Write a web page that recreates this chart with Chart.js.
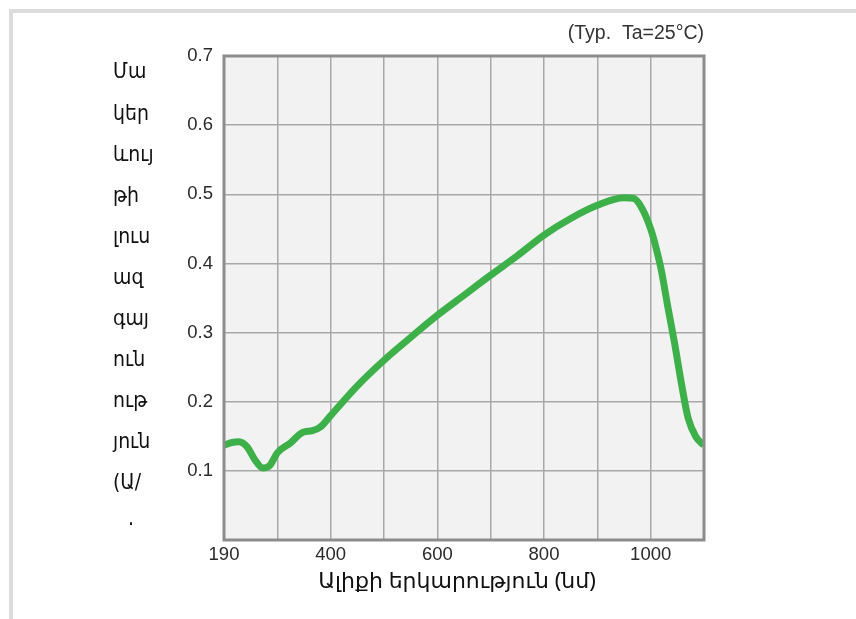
<!DOCTYPE html>
<html>
<head>
<meta charset="utf-8">
<script src="https://cdn.jsdelivr.net/npm/chart.js@4.4.1/dist/chart.umd.min.js"></script>
<style>
    html, body { margin: 0; padding: 0; background: #fff; }
    #wrap { position: relative; width: 856px; height: 619px; }
</style>
</head>
<body>
<div id="wrap"><canvas id="grafico"></canvas></div>
<script>
// Valores
const longitudOnda = [200, 215, 228, 243, 258, 273, 286, 300, 324, 348, 365, 380, 400, 450, 500, 550, 600, 650, 700, 750, 800, 850, 900, 950, 968, 982, 1000, 1010, 1020, 1032, 1045, 1058, 1070, 1085, 1100];
const sensibilidad = [0.137, 0.141, 0.142, 0.135, 0.116, 0.104, 0.108, 0.126, 0.140, 0.156, 0.158, 0.163, 0.180, 0.223, 0.260, 0.293, 0.325, 0.354, 0.383, 0.411, 0.441, 0.465, 0.484, 0.495, 0.494, 0.482, 0.450, 0.423, 0.390, 0.338, 0.284, 0.225, 0.177, 0.149, 0.137];
const etiquetasX = { 200: '190', 400: '400', 600: '600', 800: '800', 1000: '1000' };
const tituloX = 'Ալիքի երկարություն (նմ)';
const tituloY = ['Մա', 'կեր', 'ևույ', 'թի', 'լուս', 'ազ', 'գայ', 'ուն', 'ութ', 'յուն', '(Ա/', '·'];
const nota = '(Typ.  Ta=25°C)';

const fuente = '"Liberation Sans", Arial, sans-serif';
const fuenteArm = '"DejaVu Sans Condensed", "Noto Sans", "DejaVu Sans", sans-serif';

const puntos = longitudOnda.map((x, i) => ({ x: x, y: sensibilidad[i] }));

// Marco, fondo del área y textos
const decoracion = {
    id: 'decoracion',
    beforeDraw(chart) {
        const ctx = chart.ctx;
        const a = chart.chartArea;
        ctx.save();
        ctx.fillStyle = '#dcdcdc';
        ctx.fillRect(9, 9, 4, 610);
        ctx.fillRect(9, 9, 847, 4);
        ctx.fillStyle = '#f2f2f2';
        ctx.fillRect(a.left, a.top, a.right - a.left, a.bottom - a.top);
        ctx.restore();
    },
    afterDraw(chart) {
        const ctx = chart.ctx;
        const a = chart.chartArea;
        ctx.save();
        ctx.strokeStyle = '#8c8c8c';
        ctx.lineWidth = 3;
        ctx.strokeRect(a.left, a.top, a.right - a.left, a.bottom - a.top);

        ctx.fillStyle = '#333';
        ctx.font = '19.5px ' + fuente;
        ctx.textAlign = 'right';
        ctx.textBaseline = 'middle';
        ctx.fillText(nota, a.right, 34);

        ctx.fillStyle = '#111';
        ctx.font = '21px ' + fuenteArm;
        ctx.textAlign = 'left';
        tituloY.forEach((t, i) => {
            const x = i === tituloY.length - 1 ? 128 : 113;
            ctx.fillText(t, x, 73 + i * 41.1);
        });

        ctx.font = '22px "Noto Sans", "DejaVu Sans", sans-serif';
        ctx.textAlign = 'center';
        ctx.fillText(tituloX, 457, 582);
        ctx.restore();
    }
};

const ctx = document.getElementById('grafico').getContext('2d');
new Chart(ctx, {
    type: 'line',
    data: {
        datasets: [{
            data: puntos,
            borderColor: '#3db049',
            borderWidth: 7,
            pointRadius: 0,
            cubicInterpolationMode: 'monotone',
            fill: false
        }]
    },
    options: {
        responsive: true,
        maintainAspectRatio: false,
        animation: false,
        layout: { padding: { left: 0, right: 152, top: 56, bottom: 0 } },
        plugins: {
            legend: { display: false },
            tooltip: { enabled: false }
        },
        scales: {
            x: {
                type: 'linear',
                min: 200,
                max: 1100,
                afterFit: scale => { scale.height = 79; },
                ticks: {
                    stepSize: 100,
                    autoSkip: false,
                    maxRotation: 0,
                    padding: 4,
                    color: '#2a2a2a',
                    font: { size: 18.5, family: fuente },
                    callback: v => etiquetasX[v] || ''
                },
                grid: { color: '#a8a8a8', lineWidth: 1.5, drawTicks: false },
                border: { display: false }
            },
            y: {
                min: 0,
                max: 0.7,
                afterFit: scale => { scale.width = 224; },
                ticks: {
                    stepSize: 0.1,
                    padding: 11,
                    color: '#2a2a2a',
                    font: { size: 18.5, family: fuente },
                    callback: v => v < 0.05 ? '' : v.toFixed(1)
                },
                grid: { color: '#a8a8a8', lineWidth: 1.5, drawTicks: false },
                border: { display: false }
            }
        }
    },
    plugins: [decoracion]
});
</script>
</body>
</html>
